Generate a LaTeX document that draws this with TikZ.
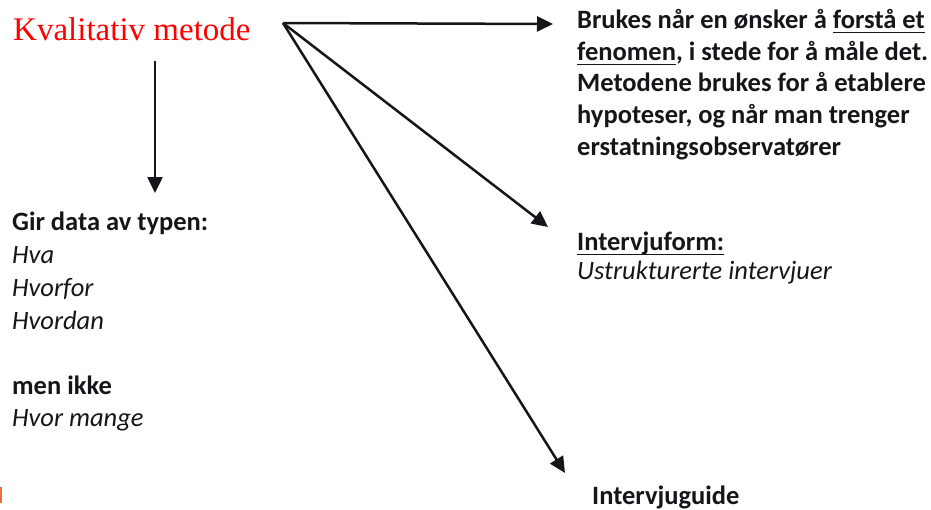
\documentclass[tikz,border=0pt]{standalone}
\usepackage{fontspec}
\setmainfont{Carlito}
\newfontfamily\titlefont{Liberation Serif}
\usetikzlibrary{arrows.meta}
\definecolor{inkblack}{RGB}{22,22,26}
\definecolor{titlered}{RGB}{255,0,0}
\definecolor{edgeorange}{RGB}{236,110,60}
% underline with a heavier rule at a fixed distance below the baseline
\newcommand\heavyul[1]{\leavevmode\vtop{\setbox0\hbox{#1}\dp0=0pt\box0\kern3.5pt\hrule height 1.9pt}}
\begin{document}
\begin{tikzpicture}[x=1pt,y=-1pt,
  txt/.style={anchor=base west, inner sep=0pt, text=inkblack},
  bold/.style={txt, font=\fontsize{26.5}{31}\selectfont\bfseries},
  ital/.style={txt, font=\fontsize{26.5}{31}\selectfont\itshape},
  link/.style={draw=inkblack, line width=2.5pt, -{Triangle[length=16pt,width=15pt]}}]
\useasboundingbox (0,0) rectangle (931,509);

% title
\node[anchor=base west, inner sep=0pt, text=titlered,
      font=\fontsize{33}{38}\selectfont\titlefont] (title) at (13,40) {Kvalitativ metode};

% left block
\node[bold] (gir) at (12,230) {Gir data av typen:};
\node[ital] (hva) at (12,263) {Hva};
\node[ital] (hvorfor) at (12,296) {Hvorfor};
\node[ital] (hvordan) at (12,329) {Hvordan};
\node[bold] (menikke) at (12,394) {men ikke};
\node[ital] (hvormange) at (12,426) {Hvor mange};

% right block
\node[bold] (r1) at (577,28) {Brukes når en ønsker å \heavyul{forstå et}};
\node[bold] (r2) at (577,60) {\heavyul{fenomen}, i stede for å måle det.};
\node[bold] (r3) at (577,91.5) {Metodene brukes for å etablere};
\node[bold] (r4) at (577,123) {hypoteser, og når man trenger};
\node[bold] (r5) at (577,155) {erstatningsobservatører};

% interview form
\node[bold] (form) at (577,250) {\heavyul{Intervjuform:}};
\node[ital] (ustr) at (577,279) {Ustrukturerte intervjuer};

% interview guide
\node[bold] (guide) at (592,504) {Intervjuguide};

% arrows
\coordinate (hub) at (283,23);
\coordinate (down0) at (155,61);
\coordinate (down1) at (155,193);
\coordinate (tipa) at (553,24);
\coordinate (tipb) at (548,227);
\coordinate (tipc) at (565,473);
\draw[link] (down0) -- (down1);
\draw[link] (hub) -- (tipa);
\draw[link] (hub) -- (tipb);
\draw[link] (hub) -- (tipc);

% clipped shape at the left edge
\fill[edgeorange] (0,487) rectangle (1.8,503);
\end{tikzpicture}
\end{document}
